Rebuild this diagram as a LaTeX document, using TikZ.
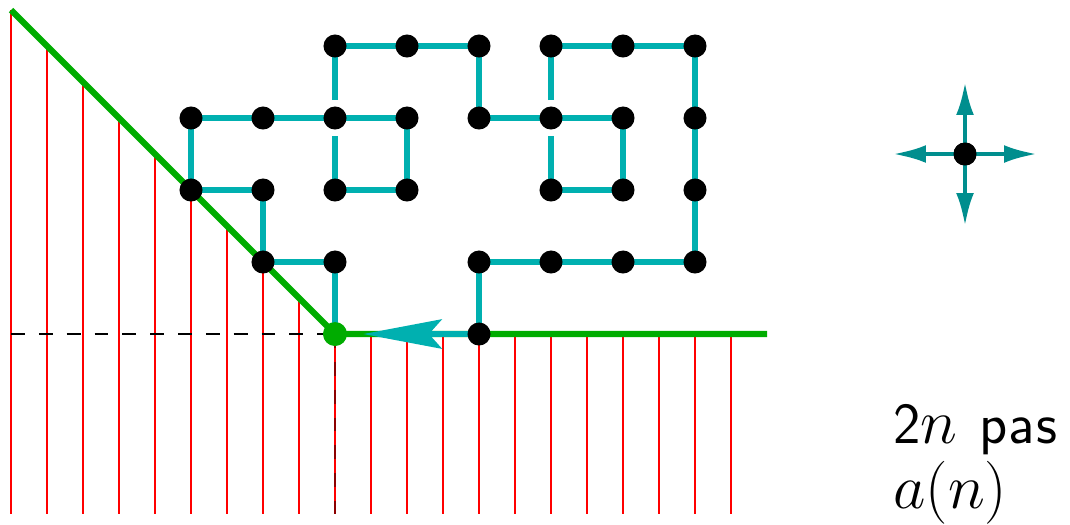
\documentclass[tikz,border=0pt]{standalone}
\usetikzlibrary{arrows.meta}
\definecolor{pathc}{RGB}{0,176,176}
\definecolor{compc}{RGB}{0,142,142}
\definecolor{grn}{RGB}{0,172,0}
\tikzset{
  dot/.style={circle,fill=black,inner sep=0pt,minimum size=0.32cm},
  gdot/.style={circle,fill=grn,inner sep=0pt,minimum size=0.33cm},
  hatch/.style={red,line width=0.8pt},
  guide/.style={black,line width=0.9pt,dash pattern=on 5.5pt off 5.5pt},
  bound/.style={grn,line width=2.4pt},
  walk/.style={pathc,line width=2.6pt,line join=miter},
  compass/.style={compc,line width=1.6pt,-{Latex[length=13pt,width=7pt]}},
  lbl/.style={inner sep=0pt,anchor=base west,font=\fontsize{23}{27}\selectfont}
}
\begin{document}
\begin{tikzpicture}
\useasboundingbox (-4.653,-2.639) rectangle (10.208,4.639);
% hatching
\foreach \x in {-4.5,-4,...,-0.5} \draw[hatch] (\x,-\x) -- (\x,-2.5);
\foreach \x in {0,0.5,...,5.5} \draw[hatch] (\x,0) -- (\x,-2.5);
% coordinates
\coordinate (gstart) at (-4.5,4.5);
\coordinate (gend) at (6,0);
\coordinate (hl) at (-4.5,0);
\coordinate (vb) at (0,-2.5);
% dashed guides
\draw[guide] (hl) -- (0,0);
\draw[red!55!black,line width=0.7pt,dash pattern=on 5.5pt off 5.5pt] (0,0) -- (vb);
% grid points
\foreach \i/\j in {0/4,1/4,2/4,3/4,4/4,5/4,
  -2/3,-1/3,0/3,1/3,2/3,3/3,4/3,5/3,
  -2/2,-1/2,0/2,1/2,3/2,4/2,5/2,
  -1/1,0/1,2/1,3/1,4/1,5/1,
  2/0}
  \coordinate (p\i\j) at (\i,\j);
\node[gdot] (start) at (0,0) {};
% green boundary
\draw[bound] (gstart) -- (start.center) -- (gend);
% gap coordinates at crossings
\coordinate (ga1) at (0,2.75); \coordinate (gb1) at (0,3.25);
\coordinate (ga2) at (3,2.75); \coordinate (gb2) at (3,3.25);
% walk
\draw[walk] (start.center) -- (p01) -- (p-11) -- (p-12) -- (p-22) -- (p-23)
  -- (p-13) -- (p03) -- (p13) -- (p12) -- (p02) -- (ga1);
\draw[walk] (gb1) -- (p04) -- (p14) -- (p24) -- (p23) -- (p33) -- (p43)
  -- (p42) -- (p32) -- (ga2);
\draw[walk] (gb2) -- (p34) -- (p44) -- (p54) -- (p53) -- (p52) -- (p51)
  -- (p41) -- (p31) -- (p21) -- (p20);
\coordinate (tip) at (0.39,0);
\draw[pathc,line width=2.6pt,-{Stealth[length=31pt,width=11.5pt,inset=5pt]}] (p20) -- (tip);
% dots
\foreach \i/\j in {0/4,1/4,2/4,3/4,4/4,5/4,
  -2/3,-1/3,0/3,1/3,2/3,3/3,4/3,5/3,
  -2/2,-1/2,0/2,1/2,3/2,4/2,5/2,
  -1/1,0/1,2/1,3/1,4/1,5/1,
  2/0}
  \node[dot] (d\i\j) at (p\i\j) {};
\node[gdot] at (start) {};
% compass
\coordinate (cN) at (8.75,3.5);
\coordinate (cS) at (8.75,1.5);
\coordinate (cE) at (9.75,2.5);
\coordinate (cW) at (7.75,2.5);
\node[dot] (c) at (8.75,2.5) {};
\draw[compass] (c.center) -- (cN);
\draw[compass] (c.center) -- (cS);
\draw[compass] (c.center) -- (cE);
\draw[compass] (c.center) -- (cW);
\node[dot] at (c) {};
% labels
\node[lbl] (t1) at (7.75,-1.514) {\textsf{2}$n$\hspace{8.5pt}\textsf{p\kern0.6pt a\kern0.6pt s}};
\node[lbl] (t2) at (7.75,-2.417) {$a(n)$};
\end{tikzpicture}
\end{document}
